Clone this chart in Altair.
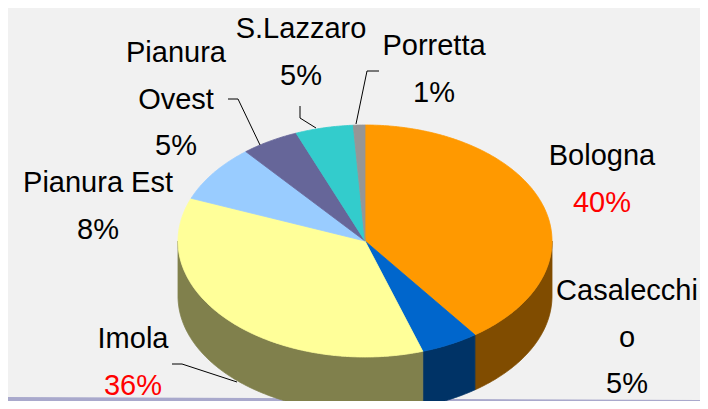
import math
import altair as alt
import pandas as pd

# ---------------- data ----------------
names = ["Bologna", "Casalecchio", "Imola", "Pianura Est", "Pianura Ovest", "S.Lazzaro", "Porretta"]
values = [40, 5, 36, 8, 5, 5, 1]
label_lines = [["Bologna"], ["Casalecchi", "o"], ["Imola"], ["Pianura Est"],
               ["Pianura", "Ovest"], ["S.Lazzaro"], ["Porretta"]]

# ---------------- styles ----------------
top_colors = ["#FF9900", "#0066CC", "#FFFF99", "#99CCFF", "#666699", "#33CCCC", "#969696"]
side_colors = ["#804C00", "#003366", "#80804C", "#4C6680", "#33334C", "#1A6666", "#4B4B4B"]

# ---------------- layout (chart pixel space, page margin 8px) ----------------
M = 8
CX, CY = 365 - M, 241 - M
RX, RY = 187, 116
DEPTH = 55

# label anchor: (center x, first baseline y), line spacing
label_pos = {
    "Bologna": (602, 165),
    "Casalecchio": (627, 300),
    "Imola": (133, 348),
    "Pianura Est": (98, 192),
    "Pianura Ovest": (176, 62),
    "S.Lazzaro": (301, 38),
    "Porretta": (434, 55),
}
LINE_H = 46.5
leaders = [
    [(228, 99), (238, 99), (260, 145)],
    [(300, 106), (300, 118), (316, 128)],
    [(379, 71), (367, 71), (356, 124)],
    [(172, 364), (182, 364), (237, 382)],
]


def pt(theta_deg, dy=0.0):
    t = math.radians(theta_deg)
    return [CX + RX * math.sin(t), CY - RY * math.cos(t) + dy]


def arc(a, b, dy=0.0):
    n = max(2, int(abs(b - a) / 0.5) + 1)
    return [pt(a + (b - a) * i / (n - 1), dy) for i in range(n)]


total = sum(values)
top_feats, side_feats = [], []
start = 0.0
for name, v in zip(names, values):
    a = start
    b = start + 360.0 * v / total
    start = b
    ring = [[CX, CY]] + arc(a, b) + [[CX, CY]]
    top_feats.append({"type": "Feature",
                      "geometry": {"type": "Polygon", "coordinates": [ring]},
                      "properties": {"name": name}})
    lo, hi = max(a, 90.0), min(b, 270.0)
    if lo < hi:
        ring = arc(lo, hi) + arc(hi, lo, DEPTH)
        ring.append(ring[0])
        side_feats.append({"type": "Feature",
                           "geometry": {"type": "Polygon", "coordinates": [ring]},
                           "properties": {"name": name}})

band_ring = [[0, 389], [692, 392], [692, 394], [0, 394], [0, 389]]
band_feats = [{"type": "Feature",
               "geometry": {"type": "Polygon", "coordinates": [band_ring]},
               "properties": {"name": "band"}}]

leader_feats = [{"type": "Feature",
                 "geometry": {"type": "LineString",
                              "coordinates": [[x - M, y - M] for x, y in line]},
                 "properties": {"name": "leader"}} for line in leaders]

rows = []
for name, v, lines in zip(names, values, label_lines):
    x, y = label_pos[name]
    for i, line in enumerate(lines):
        rows.append({"lon": x - M, "lat": y - M + i * LINE_H, "text": line, "tone": "name"})
    rows.append({"lon": x - M, "lat": y - M + len(lines) * LINE_H,
                 "text": f"{v}%", "tone": "hi" if v >= 30 else "name"})
labels = pd.DataFrame(rows)

proj = dict(type="identity", scale=1, translate=[0, 0])

band = alt.Chart(alt.Data(values=band_feats)).mark_geoshape(
    fill="#A9A9CC", stroke=None).project(**proj)

sides = alt.Chart(alt.Data(values=side_feats)).mark_geoshape(strokeWidth=0.8).encode(
    fill=alt.Fill("properties.name:N", scale=alt.Scale(domain=names, range=side_colors), legend=None),
    stroke=alt.Stroke("properties.name:N", scale=alt.Scale(domain=names, range=side_colors), legend=None),
).project(**proj)

tops = alt.Chart(alt.Data(values=top_feats)).mark_geoshape(strokeWidth=0.8).encode(
    fill=alt.Fill("properties.name:N", scale=alt.Scale(domain=names, range=top_colors), legend=None),
    stroke=alt.Stroke("properties.name:N", scale=alt.Scale(domain=names, range=top_colors), legend=None),
).project(**proj)

lead = alt.Chart(alt.Data(values=leader_feats)).mark_geoshape(
    filled=False, stroke="black", strokeWidth=1).project(**proj)

text = alt.Chart(labels).mark_text(
    font="Liberation Sans", fontSize=29, align="center", baseline="alphabetic"
).encode(
    longitude="lon:Q",
    latitude="lat:Q",
    text="text:N",
    color=alt.Color("tone:N", scale=alt.Scale(domain=["name", "hi"], range=["black", "#FF0000"]), legend=None),
).project(**proj)

chart = alt.layer(band, sides, tops, lead, text).resolve_scale(
    fill="independent", stroke="independent"
).properties(
    width=692, height=393, padding=0, autosize="none", background="#F1F1F1"
).configure_view(stroke=None)

chart.save("out.html", embed_options={"renderer": "svg", "actions": False})
